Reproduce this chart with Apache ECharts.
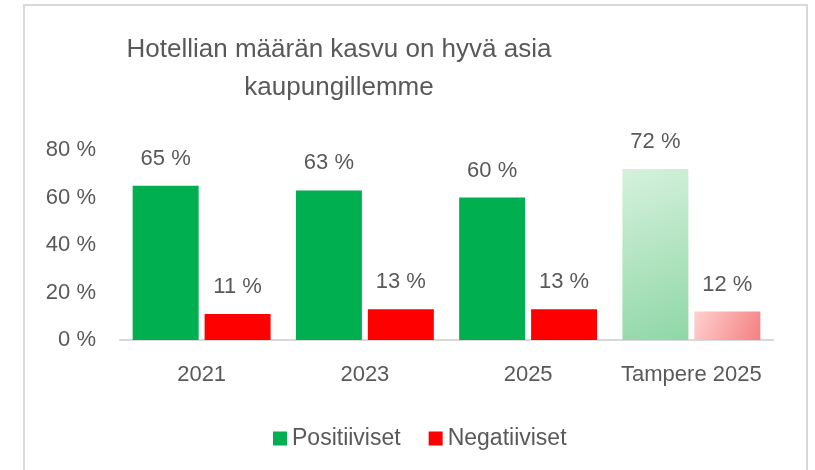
<!DOCTYPE html>
<html>
<head>
<meta charset="utf-8">
<script src="https://cdn.jsdelivr.net/npm/echarts@6/dist/echarts.min.js"></script>
<style>
  html, body { margin: 0; padding: 0; background: #fff; }
  #chart { width: 815px; height: 470px; }
</style>
</head>
<body>
<div id="chart"></div>
<script>
var categories = ['2021', '2023', '2025', 'Tampere 2025'];
var positiiviset = [65, 63, 60, 72];
var negatiiviset = [11, 13, 13, 12];
var yTicks = [0, 20, 40, 60, 80];

var textColor = '#595959';
var font = "'Liberation Sans', Arial, sans-serif";

function fade(c1, c2) {
    return new echarts.graphic.LinearGradient(0, 0, 1, 1, [
        { offset: 0, color: c1 },
        { offset: 1, color: c2 }
    ]);
}

// viimeinen pylväs (Tampere) haaleampana liukuvärinä
function barData(values, solid, light1, light2) {
    return values.map(function (v, i) {
        if (i == values.length - 1) {
            return { value: v, itemStyle: { color: fade(light1, light2) } };
        }
        return { value: v, itemStyle: { color: solid } };
    });
}

var chart = echarts.init(document.getElementById('chart'));
var option = {
    backgroundColor: '#fff',
    animation: false,
    textStyle: { fontFamily: font },
    graphic: [{
        type: 'rect',
        shape: { x: 24, y: 5, width: 783, height: 500 },
        style: { fill: 'none', stroke: '#d9d9d9', lineWidth: 2 },
        silent: true
    }],
    title: {
        text: 'Hotellian määrän kasvu on hyvä asia\nkaupungillemme',
        left: 334,
        top: 26,
        textAlign: 'center',
        textStyle: {
            color: textColor,
            fontSize: 26,
            fontWeight: 'normal',
            lineHeight: 38,
            fontFamily: font
        }
    },
    legend: {
        data: ['Positiiviset', 'Negatiiviset'],
        left: 268,
        top: 422,
        itemWidth: 14,
        itemHeight: 14,
        itemGap: 28,
        icon: 'rect',
        textStyle: { color: textColor, fontSize: 23, fontFamily: font }
    },
    grid: {
        left: 120,
        right: 42,
        top: 150,
        bottom: 130,
        containLabel: false
    },
    xAxis: {
        type: 'category',
        data: categories,
        axisLine: { lineStyle: { color: '#d9d9d9', width: 2 } },
        axisTick: { show: false },
        axisLabel: { color: textColor, fontSize: 22, margin: 24, interval: 0, fontFamily: font }
    },
    yAxis: {
        type: 'value',
        min: yTicks[0],
        max: yTicks[yTicks.length - 1],
        interval: 20,
        splitLine: { show: false },
        axisLine: { show: false },
        axisTick: { show: false },
        axisLabel: {
            color: textColor,
            fontSize: 22,
            margin: 24,
            fontFamily: font,
            formatter: '{value} %'
        }
    },
    series: [
        {
            name: 'Positiiviset',
            type: 'bar',
            barWidth: 66,
            barGap: '9%',
            itemStyle: { color: '#00b050' },
            label: {
                show: true,
                position: 'top',
                distance: 16,
                color: textColor,
                fontSize: 22,
                fontFamily: font,
                formatter: '{c} %'
            },
            data: barData(positiiviset, '#00b050', '#d6f1dd', '#8fd7a6')
        },
        {
            name: 'Negatiiviset',
            type: 'bar',
            barWidth: 66,
            barGap: '9%',
            itemStyle: { color: '#ff0000' },
            label: {
                show: true,
                position: 'top',
                distance: 16,
                color: textColor,
                fontSize: 22,
                fontFamily: font,
                formatter: '{c} %'
            },
            data: barData(negatiiviset, '#ff0000', '#ffd0d0', '#f48080')
        }
    ]
};
chart.setOption(option);
</script>
</body>
</html>
